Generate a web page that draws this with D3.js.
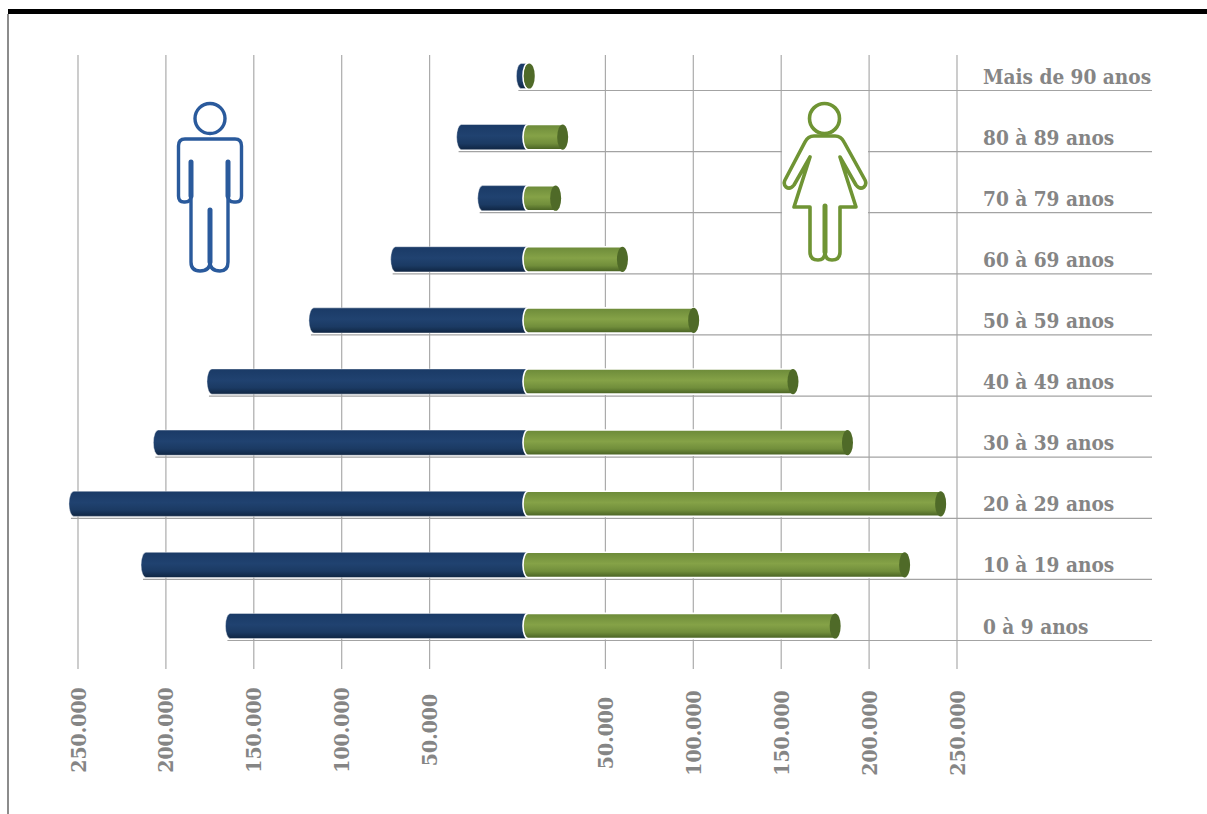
<!DOCTYPE html>
<html><head><meta charset="utf-8">
<script src="https://cdn.jsdelivr.net/npm/d3@7/dist/d3.min.js"></script>
<style>html,body{margin:0;padding:0;background:#fff;overflow:hidden}svg{display:block}text{font-family:"DejaVu Serif Condensed","DejaVu Serif",serif;font-weight:700;fill:#858585}</style>
</head><body><svg id="c" width="1207" height="814"></svg>
<script>
const categories=["0 à 9 anos","10 à 19 anos","20 à 29 anos","30 à 39 anos","40 à 49 anos","50 à 59 anos","60 à 69 anos","70 à 79 anos","80 à 89 anos","Mais de 90 anos"];
const homens=[167000,215000,256000,208000,177500,119500,73000,23500,35500,1500];
const mulheres=[177000,216500,237000,184000,153000,96500,56000,18000,22000,3000];
const tickValues=[-250000,-200000,-150000,-100000,-50000,50000,100000,150000,200000,250000];

const W=1207,H=814,depth=6.5,ry=12.6,rx=5,junction=4;
const svg=d3.select("#c");
const x=d3.scaleLinear().domain([-250000,250000]).range([78,957]);
const y=d3.scalePoint().domain(categories).range([640.5,90.5]);
const fmt=d3.formatLocale({decimal:",",thousands:".",grouping:[3],currency:["",""]}).format(",d");

const defs=svg.append("defs");
function grad(id,stops){const g=defs.append("linearGradient").attr("id",id).attr("x1",0).attr("x2",0).attr("y1",0).attr("y2",1);
 stops.forEach(s=>g.append("stop").attr("offset",s[0]).attr("stop-color",s[1]));}
grad("navy",[[0,"#1a3a66"],[.45,"#204270"],[.75,"#1b3a63"],[1,"#0f2542"]]);
grad("green",[[0,"#6c8a39"],[.45,"#85a247"],[.75,"#718e3b"],[1,"#465f22"]]);

// frame
svg.append("rect").attr("x",8).attr("y",9).attr("width",W-8).attr("height",5).attr("fill","#000");
svg.append("rect").attr("x",7).attr("y",14).attr("width",2).attr("height",H-14).attr("fill","#8c8c8c");

// vertical grid
svg.append("g").selectAll("line").data(tickValues).join("line")
 .attr("x1",d=>x(d)).attr("x2",d=>x(d)).attr("y1",55).attr("y2",669)
 .attr("stroke","#ababab").attr("stroke-width",1.2);

// floor lines
svg.append("g").selectAll("line").data(categories).join("line")
 .attr("x1",(d,i)=>x(-homens[i])+depth-rx+2)
 .attr("x2",1152).attr("y1",d=>y(d)).attr("y2",d=>y(d))
 .attr("stroke","#a3a3a3").attr("stroke-width",1.2);

// white backing of female icon
svg.append("rect").attr("x",782).attr("y",100).attr("width",86).attr("height",165).attr("fill","#fff");

// bars
const bars=svg.append("g");
categories.forEach((c,i)=>{
 const cy=y(c)-14.5, top=cy-ry, bot=cy+ry;
 const base=x(0)+depth+junction;
 const mx=x(-homens[i])+depth, fx=x(mulheres[i])+depth;
 bars.append("path").attr("d",`M${base},${top}L${mx},${top}A${rx},${ry} 0 0 0 ${mx},${bot}L${base},${bot}Z`)
  .attr("fill","url(#navy)").attr("stroke","#fff").attr("stroke-opacity",.55).attr("stroke-width",.8);
 bars.append("path").attr("d",`M${base},${top}L${fx},${top}A${rx},${ry} 0 0 1 ${fx},${bot}L${base},${bot}A${rx},${ry} 0 0 1 ${base},${top}Z`)
  .attr("fill","url(#green)").attr("stroke","#fff").attr("stroke-width",1.6);
 bars.append("ellipse").attr("cx",fx).attr("cy",cy).attr("rx",rx+.5).attr("ry",ry).attr("fill","#4f6a28");
});

// category labels
svg.append("g").selectAll("text").data(categories).join("text")
 .attr("x",983).attr("y",d=>y(d)-7).attr("font-size",20.6).text(d=>d);

// tick labels
svg.append("g").selectAll("text").data(tickValues).join("text")
 .attr("transform",d=>`translate(${x(d)+7.5},${d<0?730:733}) rotate(-90)`)
 .attr("text-anchor","middle").attr("font-size",21).text(d=>fmt(Math.abs(d)));

// man icon
const man=svg.append("g").attr("fill","none").attr("stroke","#2a5a9c").attr("stroke-width",3.4).attr("stroke-linecap","round").attr("stroke-linejoin","round");
man.append("circle").attr("cx",210).attr("cy",118.5).attr("r",15);
man.append("path").attr("d","M191,162L191,196Q191,202 185,202L184,202Q178.500,202 178.500,196L178.500,146Q178.500,139 185,139L235,139Q241.500,139 241.500,146L241.500,196Q241.500,202 236,202L234,202Q228,202 228,196L228,162");
man.append("path").attr("d","M191,196L191,262Q191,271 200,271Q210,271 210,262L210,210L210,262Q210,271 220,271Q228,271 228,262L228,196");
man.selectAll("line").data([[191,162,191,196],[228,162,228,196],[210,210,210,262]]).join("line")
 .attr("x1",d=>d[0]).attr("y1",d=>d[1]).attr("x2",d=>d[2]).attr("y2",d=>d[3]).attr("stroke-width",5);

// woman icon
const wom=svg.append("g").attr("fill","none").attr("stroke","#6f9434").attr("stroke-width",3.6).attr("stroke-linecap","round").attr("stroke-linejoin","round");
wom.append("circle").attr("cx",824.5).attr("cy",118.5).attr("r",15);
wom.append("path").attr("d","M810,157L794,207L810,207L810,252Q810,260 818,260Q825,260 825,252L825,206L825,252Q825,260 832,260Q840,260 840,252L840,207L856,207L840,157L856,185Q860,190 864,187Q867,184 865,180L844,142Q841,136 835,136L814,136Q808,136 805,142L785,180Q783,184 786,187Q790,190 794,185L810,157");
wom.append("line").attr("x1",825).attr("y1",206).attr("x2",825).attr("y2",252).attr("stroke-width",5);
</script></body></html>
